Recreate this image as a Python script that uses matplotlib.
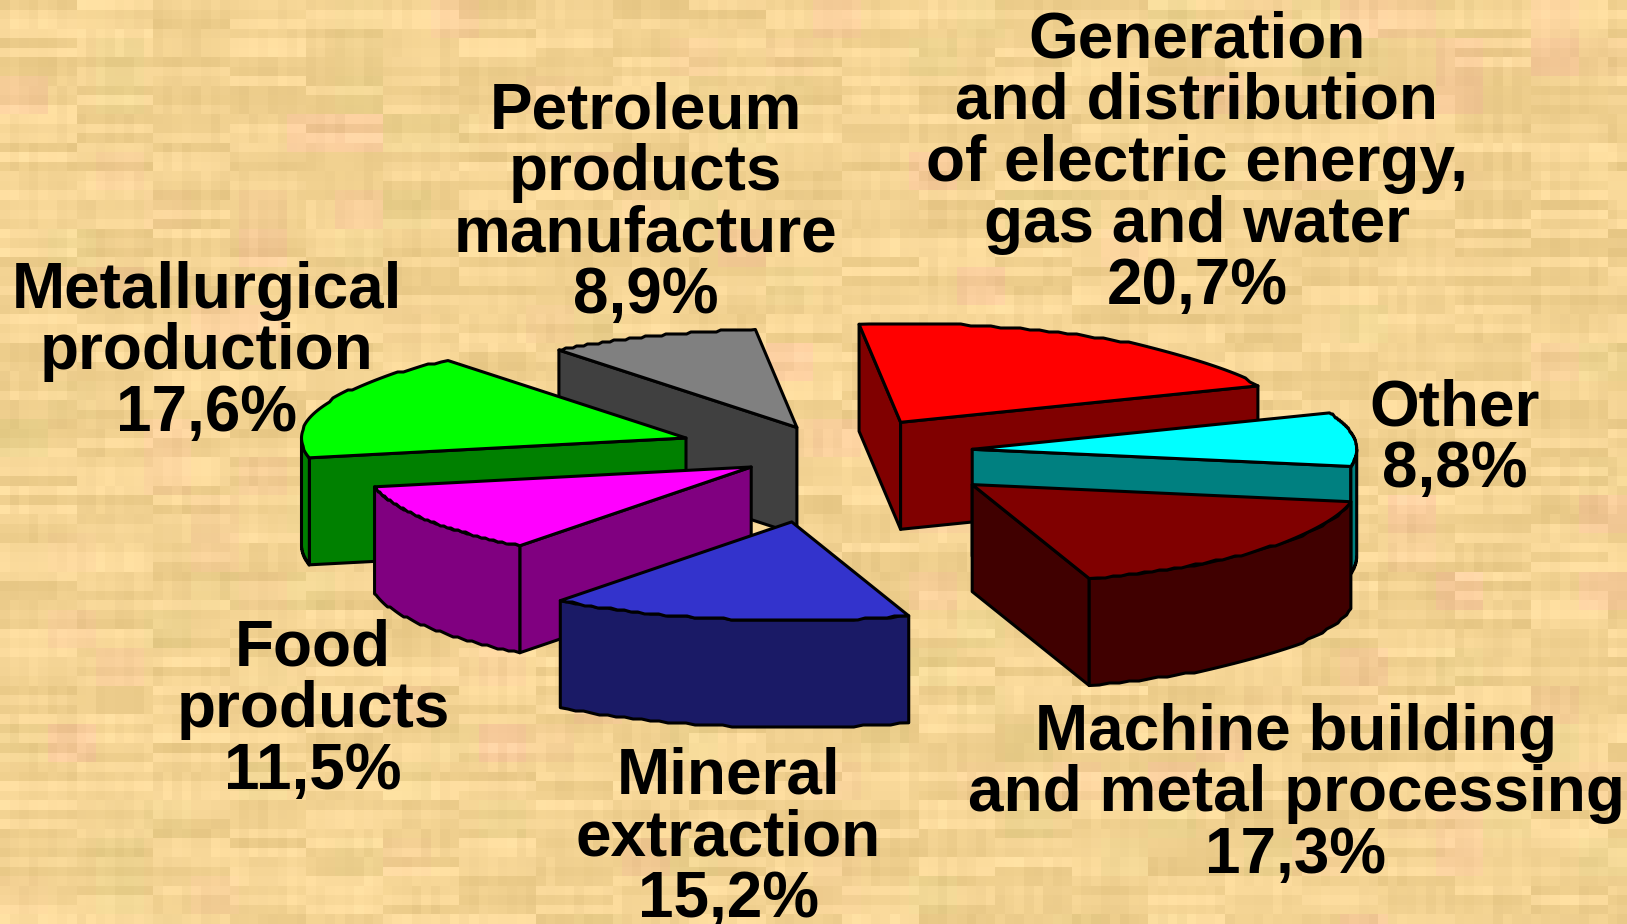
import numpy as np
import matplotlib
matplotlib.use("Agg")
import matplotlib.pyplot as plt
from matplotlib.patches import Polygon

# ---- data (clockwise from the top) ----
names = ["Generation\nand distribution\nof electric energy,\ngas and water",
         "Other",
         "Machine building\nand metal processing",
         "Mineral\nextraction",
         "Food\nproducts",
         "Metallurgical\nproduction",
         "Petroleum\nproducts\nmanufacture"]
shares = [20.7, 8.8, 17.3, 15.2, 11.5, 17.6, 8.9]
top_colors = ["#FF0000", "#00FFFF", "#800000", "#3333CC", "#FF00FF", "#00FF00", "#808080"]
side_colors = ["#800000", "#008080", "#400000", "#1A1A66", "#800080", "#008000", "#404040"]

# ---- layout ----
W, H = 1627, 924
RX, RY, DEPTH = 384.5, 98.6, 107.0
START = -6.2
apex = [(900.6, 422.3), (972.2, 449.3), (972.2, 484.6), (791.7, 521.9),
        (751.2, 467.0), (686.0, 438.0), (796.9, 427.5)]
draw_order = [6, 5, 0, 1, 2, 4, 3]
label_xy = [(1197, 163.5), (1455, 439.5), (1296, 794.5), (728.5, 838),
            (313, 710.5), (206.5, 352.5), (645.5, 203.5)]
FONT = 46

fig = plt.figure(figsize=(W / 100, H / 100), dpi=100)
ax = fig.add_axes([0, 0, 1, 1])
ax.set_xlim(0, W)
ax.set_ylim(H, 0)
ax.axis("off")


# ---- paper-like backdrop: deterministic blocky texture ----
def hash01(a, b, s):
    v = np.sin(a * 12.9898 + b * 78.233 + s * 37.719) * 43758.5453
    return v - np.floor(v)


cell = 9.6
ny, nx = int(H / cell) + 1, int(W / cell) + 1
r, c = np.mgrid[0:ny, 0:nx]
block = c // 8
rows = (hash01(r * 1.0, block * 1.0, 1) - 0.5) * 21
fine = (hash01(r // 3 * 1.0, c * 1.0, 2) - 0.5) * 9
big = hash01(r // 4 * 1.0, c // 5 * 1.0, 3)
pink = np.clip(big - 0.82, 0, 1) * 100
green = np.clip(0.12 - big, 0, 1) * 90
tex = np.zeros((ny, nx, 3))
tex[..., 0] = 244 + rows + fine + pink * 0.2 - green * 0.5
tex[..., 1] = 212 + rows + fine - pink * 0.5 + green * 0.1
tex[..., 2] = 148 + rows * 1.2 + fine + pink * 0.4 - green * 0.2
ax.imshow(np.clip(tex, 0, 255).astype(np.uint8), extent=(0, W, H, 0),
          interpolation="nearest", aspect="auto", zorder=0)


# ---- exploded 3-D pie ----
def rim(ox, oy, deg):
    t = np.radians(deg)
    x = ox + RX * np.sin(t)
    y = oy - RY * np.cos(t)
    # the rim of the source chart is a slightly stair-stepped outline
    y_stepped = np.round(y / 2.0) * 2.0
    y_stepped[[0, -1]] = y[[0, -1]]
    return np.column_stack((x, y_stepped))


def face(points, color, z):
    ax.add_patch(Polygon(points, closed=True, facecolor=color, edgecolor="black",
                         linewidth=2.2, joinstyle="round", zorder=z))


edges = START + np.concatenate(([0.0], np.cumsum(shares))) / sum(shares) * 360.0
z = 2
for i in draw_order:
    ox, oy = apex[i]
    a0, a1 = edges[i], edges[i + 1]
    arc = rim(ox, oy, np.linspace(a0, a1, 50))
    drop = np.array([0.0, DEPTH])
    top_o = np.array([ox, oy])
    # radial faces that look toward the viewer
    if np.sin(np.radians(a0)) < 0:
        face([top_o, arc[0], arc[0] + drop, top_o + drop], side_colors[i], z)
    if np.sin(np.radians(a1)) > 0:
        face([top_o, arc[-1], arc[-1] + drop, top_o + drop], side_colors[i], z)
    # outer wall: only the part of the rim on the near side
    lo, hi = max(a0, 90.0), min(a1, 270.0)
    if hi > lo:
        wall = rim(ox, oy, np.linspace(lo, hi, 40))
        face(np.vstack((wall, (wall + drop)[::-1])), side_colors[i], z)
    face(np.vstack((top_o, arc)), top_colors[i], z)
    z += 1

# ---- labels ----
for name, share, (x, y) in zip(names, shares, label_xy):
    txt = f"{name}\n{share:.1f}%".replace(".", ",")
    ax.text(x, y, txt, ha="center", va="center", ma="center", fontsize=FONT,
            fontweight="bold", family="Liberation Sans", color="black",
            linespacing=1.033, zorder=20)

fig.savefig("out.png", dpi=100)
